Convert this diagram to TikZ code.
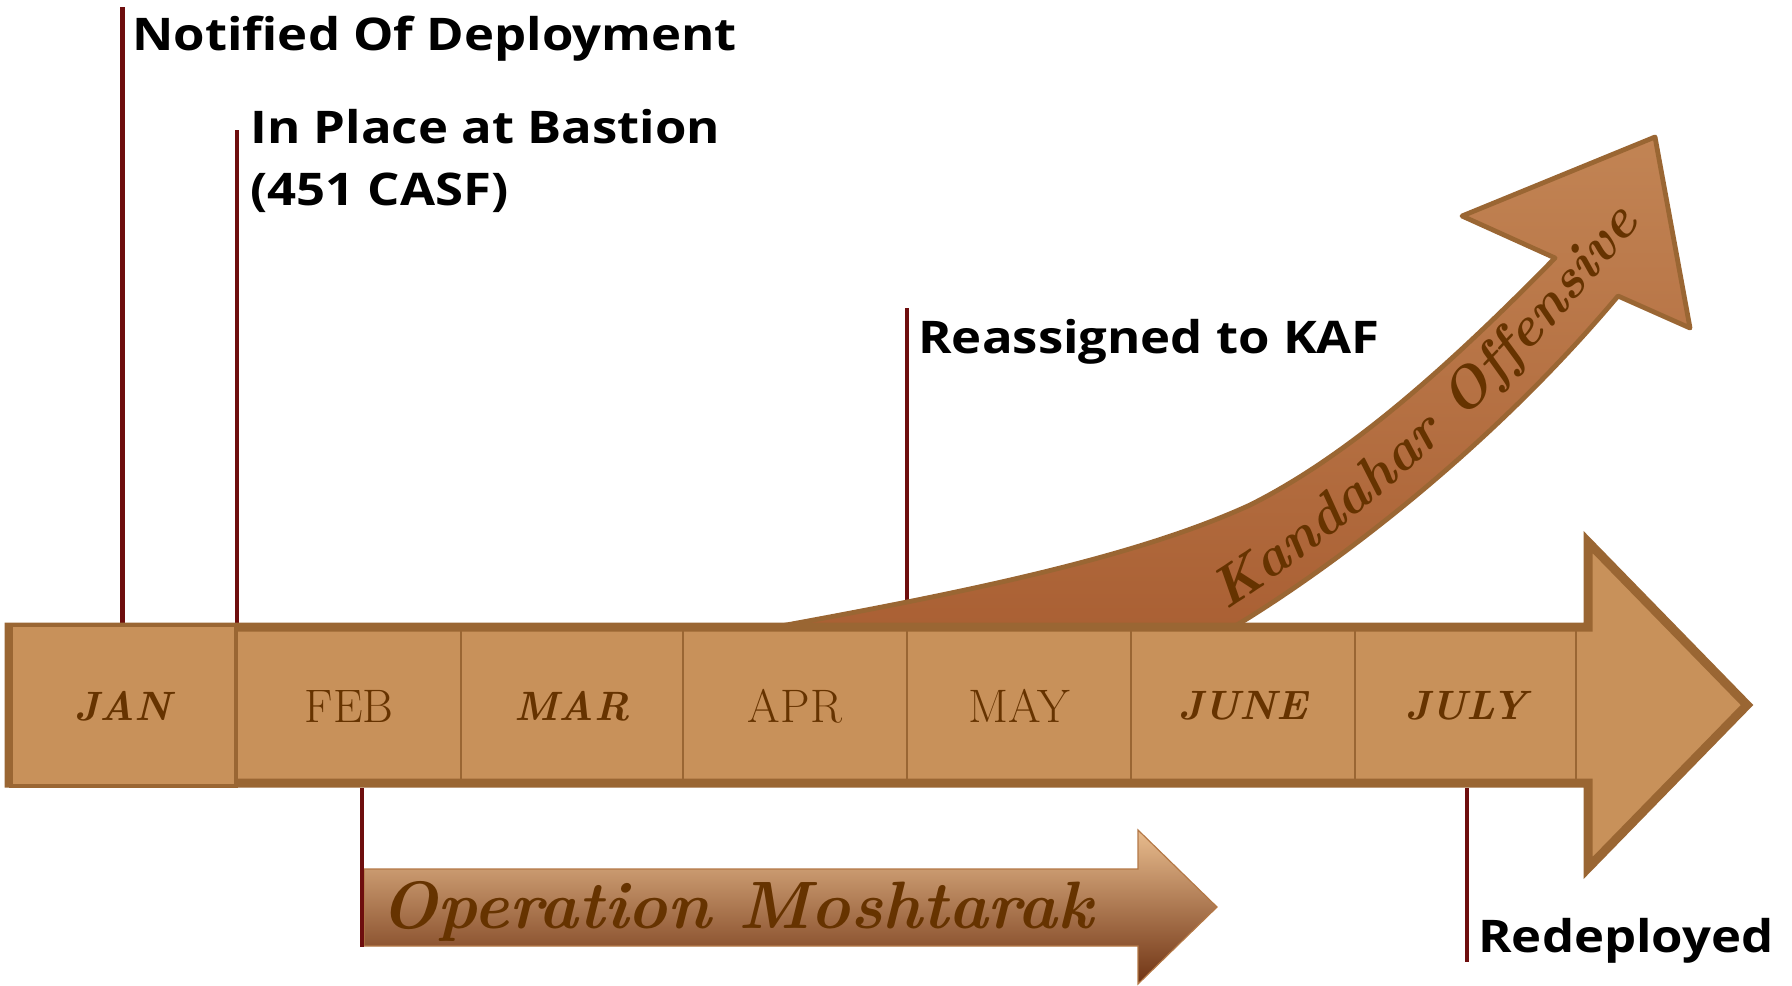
\documentclass[tikz,border=0pt]{standalone}
\usepackage{fontspec}
\newfontfamily\lblfont[FakeStretch=1.13]{Open Sans}
\usetikzlibrary{decorations.text}
\definecolor{barfill}{RGB}{200,145,90}
\definecolor{barline}{RGB}{154,102,51}
\definecolor{tickred}{RGB}{110,14,14}
\definecolor{mbrown}{RGB}{102,51,0}
\definecolor{kalight}{RGB}{194,132,84}
\definecolor{kadark}{RGB}{170,96,52}
\definecolor{oplight}{RGB}{232,188,142}
\definecolor{opmid}{RGB}{192,118,66}
\definecolor{opdark}{RGB}{112,52,20}
\definecolor{opline}{RGB}{180,120,70}
\begin{document}
\begin{tikzpicture}[x=0.5pt,y=0.5pt,
  tickln/.style={draw=tickred, line width=2.3pt},
  lbl/.style={anchor=base west, inner sep=0pt, text=black,
    font=\lblfont\bfseries\fontsize{22.5}{28.5}\selectfont},
  month/.style={text=mbrown, inner sep=0pt, font=\fontsize{23.5}{26}\selectfont},
  monthbi/.style={text=mbrown, inner sep=0pt, font=\fontsize{20.5}{24}\selectfont\bfseries\itshape},
  divider/.style={draw=barline, line width=1pt}
]
\useasboundingbox (0,0) rectangle (1792,-985);

% tick lines above the bar
\coordinate (t1a) at (122.5,-7);   \coordinate (t1b) at (122.5,-624);
\coordinate (t2a) at (237,-130);   \coordinate (t2b) at (237,-624);
\coordinate (t3a) at (907,-308);   \coordinate (t3b) at (907,-604);
\draw[tickln] (t1a) -- (t1b);
\draw[tickln] (t2a) -- (t2b);
\draw[tickln] (t3a) -- (t3b);

% Kandahar Offensive arrow
\coordinate (ka0) at (770,-628);
\coordinate (kb0) at (1232,-628);
\shadedraw[top color=kalight, bottom color=kadark,
  draw=barline, line width=2.4pt, line join=round]
  (ka0) .. controls (950,-595) and (1130,-560) .. (1250,-505)
  .. controls (1350,-455) and (1450,-365) .. (1555,-258)
  -- (1462,-216) -- (1655,-137) -- (1690,-328) -- (1618,-296)
  .. controls (1480,-460) and (1320,-575) .. (kb0) -- cycle;
\coordinate (kt0) at (1226,-610);
\coordinate (kt1) at (1665,-190);
\path[decorate, decoration={text along path, text color=mbrown,
  text={|\fontsize{28}{31}\selectfont\bfseries\itshape|Kandahar Offensive}}]
  (kt0) .. controls (1320,-552) and (1490,-420) .. (kt1);

% main timeline arrow
\filldraw[fill=barfill, draw=barline, line width=4.5pt, line join=miter]
  (9,-627) -- (1588,-627) -- (1588,-542) -- (1747,-705) -- (1588,-868)
  -- (1588,-783) -- (9,-783) -- cycle;
\foreach \x in {461,683,907,1131,1355,1576}
  \draw[divider] (\x,-631) -- (\x,-779);
\filldraw[fill=barfill, draw=barline, line width=2pt] (10.5,-625) rectangle (236,-786);

\node[monthbi] (jan) at (123,-706) {JAN};
\node[month]   (feb) at (349,-706) {FEB};
\node[monthbi] (mar) at (572,-706) {MAR};
\node[month]   (apr) at (795,-706) {APR};
\node[month]   (may) at (1019,-706) {MAY};
\node[monthbi] (jun) at (1243,-706) {JUNE};
\node[monthbi] (jul) at (1466,-706) {JULY};

% Operation Moshtarak arrow
\shadedraw[top color=oplight, middle color=opmid, bottom color=opdark,
  draw=opline, line width=0.6pt]
  (364,-869) -- (1138,-869) -- (1138,-830) -- (1217,-907) -- (1138,-984)
  -- (1138,-946) -- (364,-946) -- cycle;
\node[anchor=base west, inner sep=0pt, text=mbrown,
  font=\fontsize{33.5}{36}\selectfont\bfseries\itshape] (opm) at (380,-928) {Operation Moshtarak};

% tick lines below the bar
\coordinate (t4a) at (362,-788);   \coordinate (t4b) at (362,-947);
\coordinate (t5a) at (1467,-788);  \coordinate (t5b) at (1467,-962);
\draw[tickln] (t4a) -- (t4b);
\draw[tickln] (t5a) -- (t5b);

% labels
\node[lbl] (notified) at (132,-50) {Notified Of Deployment};
\node[lbl, align=left] (inplace) at (250,-205) {In Place at Bastion\\[2.5pt](451 CASF)};
\node[lbl] (reassigned) at (918,-353) {Reassigned to KAF};
\node[lbl] (redeployed) at (1478,-952) {Redeployed};
\end{tikzpicture}
\end{document}
